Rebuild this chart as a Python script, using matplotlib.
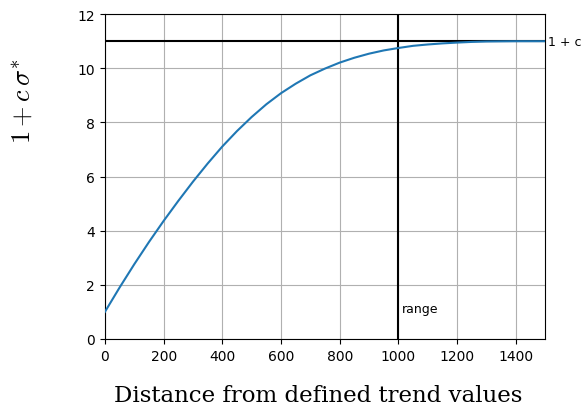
import matplotlib
matplotlib.use("Agg")
import matplotlib.pyplot as plt

# values
distance = [0, 50, 100, 150, 200, 250, 300, 350, 400, 450, 500, 550, 600, 650, 700,
            750, 800, 850, 900, 950, 1000, 1050, 1100, 1150, 1200, 1250, 1300, 1350,
            1400, 1450, 1500]
sigma_curve = [1.0, 1.90, 2.76, 3.58, 4.36, 5.10, 5.81, 6.48, 7.11, 7.68, 8.20, 8.67,
               9.08, 9.43, 9.74, 9.99, 10.21, 10.39, 10.54, 10.66, 10.75, 10.83, 10.88,
               10.92, 10.95, 10.975, 10.99, 10.995, 11.0, 11.0, 11.0]
sill = 11
range_dist = 1000

plt.rcParams['mathtext.fontset'] = 'cm'

fig, ax = plt.subplots(figsize=(5.83, 4.10), dpi=100)
fig.subplots_adjust(left=0.180, right=0.935, top=0.963, bottom=0.171)

ax.plot(distance, sigma_curve, color='C0', linewidth=1.5, zorder=3)
ax.axhline(sill, color='black', linewidth=1.5, zorder=2)
ax.axvline(range_dist, color='black', linewidth=1.5, zorder=2)

ax.text(1510, sill, '1 + c', fontsize=9, va='center', ha='left')
ax.text(range_dist + 12, 0.9, 'range', fontsize=9, va='bottom', ha='left')

ax.set_xlim(0, 1500)
ax.set_ylim(0, 12)
ax.grid(True)
ax.set_axisbelow(True)

ax.set_xlabel('Distance from defined trend values', fontsize=16.5, family='DejaVu Serif')
ax.xaxis.set_label_coords(0.485, -0.14)
ax.set_ylabel(r'$1 + c\,\sigma^{*}$', fontsize=19)
ax.yaxis.set_label_coords(-0.155, 0.735)

fig.savefig('out.png', dpi=100)
